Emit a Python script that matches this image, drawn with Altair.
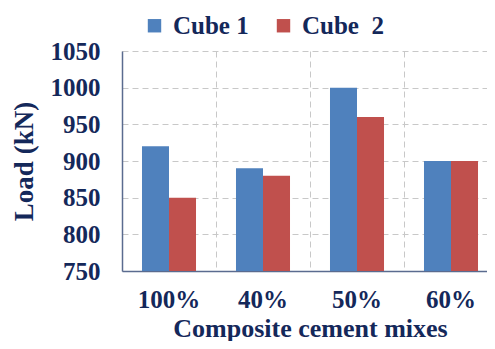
import altair as alt
import pandas as pd

mixes = ["100%", "40%", "50%", "60%"]
series = ["Cube 1", "Cube \u00a02"]
cube1 = [920, 890, 1000, 900]
cube2 = [850, 880, 960, 900]
y_ticks = [750, 800, 850, 900, 950, 1000, 1050]

rows = []
for m, a, b in zip(mixes, cube1, cube2):
    rows.append({"mix": m, "series": series[0], "load": a})
    rows.append({"mix": m, "series": series[1], "load": b})
df = pd.DataFrame(rows)

navy = "#14285a"
font = "Liberation Serif"

chart = alt.Chart(df).mark_bar(clip=True).encode(
    x=alt.X("mix:N", sort=mixes,
            scale=alt.Scale(paddingInner=0, paddingOuter=0, range=[0, 376]),
            axis=alt.Axis(title="Composite cement mixes", labelAngle=0, grid=True,
                          bandPosition=0, gridDash=[6, 4], gridColor="#c8c8c8",
                          ticks=False, labelPadding=16, titlePadding=3,
                          titleFontSize=26,
                          domainColor="#5a6b8f", domainWidth=1.5)),
    xOffset=alt.XOffset("series:N", sort=series,
                        scale=alt.Scale(paddingInner=0, paddingOuter=0.74)),
    y=alt.Y("load:Q", scale=alt.Scale(domain=[750, 1050], nice=False, zero=False),
            axis=alt.Axis(title="Load (kN)", values=y_ticks, format="d", grid=True,
                          gridDash=[6, 4], gridColor="#c8c8c8", ticks=False,
                          labelPadding=22, titlePadding=12, titleFontSize=27,
                          domainColor="#5a6b8f", domainWidth=1.5)),
    color=alt.Color("series:N", sort=series,
                    scale=alt.Scale(domain=series, range=["#4f81bd", "#c0504d"]),
                    legend=alt.Legend(title=None, orient="none", direction="horizontal",
                                      legendX=20, legendY=-38, symbolType="square",
                                      symbolSize=180, symbolStrokeWidth=0,
                                      labelFontSize=25, labelFont=font,
                                      labelFontWeight="bold", labelColor=navy,
                                      columnPadding=22, labelOffset=6)),
).properties(
    width=365, height=220,
    autosize=alt.AutoSizeParams(type="none"),
    padding={"left": 114, "top": 43, "right": 0, "bottom": 70},
).configure_axis(
    labelFont=font, labelFontSize=25, labelFontWeight="bold", labelColor=navy,
    titleFont=font, titleFontWeight="bold", titleColor=navy,
).configure_view(stroke=None)

chart.save("out.html", embed_options={"renderer": "svg", "actions": False})
